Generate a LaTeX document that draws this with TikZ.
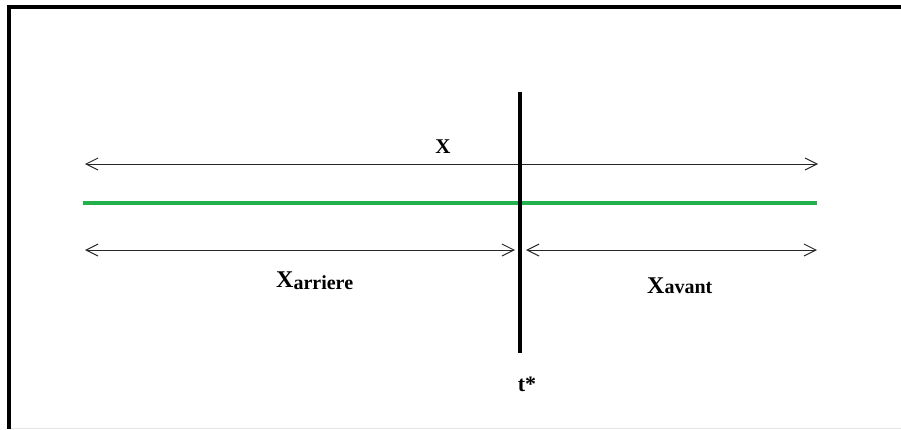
\documentclass[tikz,border=0pt]{standalone}
\usepackage{fontspec}
\setmainfont{Liberation Serif}
\usetikzlibrary{arrows.meta}
\definecolor{lgreen}{RGB}{34,177,76}
\begin{document}
\begin{tikzpicture}[x=1pt,y=-1pt,
  dimarrow/.style={line width=1pt,draw=black!85,{Straight Barb[length=12pt,width=12pt]}-{Straight Barb[length=12pt,width=12pt]}},
  lbl/.style={font=\bfseries,inner sep=0pt,anchor=base}]
\useasboundingbox (0,0) rectangle (901,429);
% frame
\draw[line width=4pt] (7,7) -- (901,7);
\draw[line width=4pt] (9,5) -- (9,429);
\draw[black!10,line width=1pt] (11,428.5) -- (901,428.5);
% coordinates
\coordinate (xl) at (85,164);
\coordinate (xr) at (818,164);
\coordinate (gl) at (83,203);
\coordinate (gr) at (817,203);
\coordinate (al) at (85,250);
\coordinate (ar) at (515,250);
\coordinate (vl) at (526,250);
\coordinate (vr) at (817,250);
\coordinate (tt) at (520,92);
\coordinate (tb) at (520,353);
% lines
\draw[dimarrow] (xl) -- (xr);
\draw[lgreen,line width=4pt] (gl) -- (gr);
\draw[dimarrow] (al) -- (ar);
\draw[dimarrow] (vl) -- (vr);
\draw[line width=4pt] (tt) -- (tb);
% labels
\node[lbl,font=\fontsize{21}{21}\selectfont\bfseries] (X) at (443,153) {X};
\node[lbl,anchor=base west] (Xa) at (276,287) {\fontsize{24}{24}\selectfont X\raisebox{-2pt}{\fontsize{20}{20}\selectfont arriere}};
\node[lbl,anchor=base west] (Xv) at (647,293) {\fontsize{24}{24}\selectfont X\fontsize{20}{20}\selectfont avant};
\node[lbl,font=\fontsize{22}{22}\selectfont\bfseries] (t) at (527,391) {t*};
\end{tikzpicture}
\end{document}
